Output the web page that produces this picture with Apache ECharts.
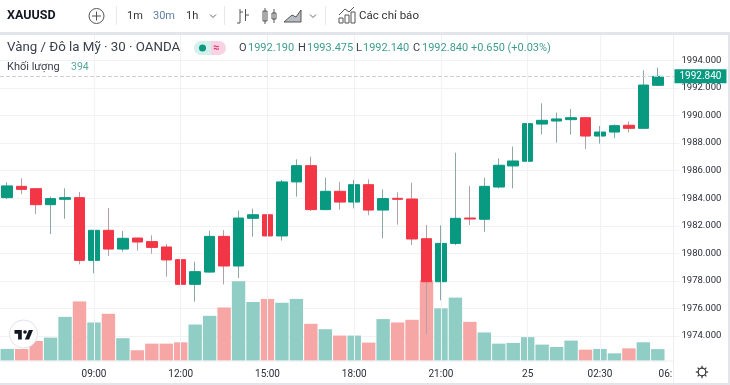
<!DOCTYPE html>
<html>
<head>
<meta charset="utf-8">
<style>
  html, body { margin: 0; padding: 0; background: #fff; }
  #chart { width: 730px; height: 385px; }
</style>
</head>
<body>
<div id="chart"></div>
<script src="https://cdn.jsdelivr.net/npm/echarts@6/dist/echarts.min.js"></script>
<script>
// XAUUSD 30m, doc tu anh
const categories = ['06:00', '06:30', '07:00', '07:30', '08:00', '08:30', '09:00', '09:30', '10:00', '10:30', '11:00', '11:30', '12:00',
  '12:30', '13:00', '13:30', '14:00', '14:30', '15:00', '15:30', '16:00', '16:30', '17:00', '17:30', '18:00',
  '18:30', '19:00', '19:30', '20:00', '20:30', '21:00', '21:30', '22:00', '22:30', '23:00', '23:30', '25',
  '00:30', '01:00', '01:30', '02:00', '02:30', '03:00', '03:30', '04:00', '04:30', '06:']
const timeLabels = ['09:00', '12:00', '15:00', '18:00', '21:00', '25', '02:30', '06:']
const priceTicks = [1974, 1976, 1978, 1980, 1982, 1984, 1986, 1988, 1990, 1992, 1994]

const opens = [1984.04, 1984.86, 1984.69, 1983.53, 1983.92, 1984.04, 1979.49, 1981.67, 1980.31, 1981.11, 1980.85, 1980.46, 1979.54,
  1977.75, 1978.64, 1981.23, 1979.08, 1982.54, 1982.80, 1981.26, 1985.18, 1986.36, 1983.17, 1984.50, 1983.72,
  1984.98, 1983.14, 1983.99, 1983.94, 1981.06, 1977.94, 1980.72, 1982.56, 1982.47, 1984.81, 1986.34, 1986.68,
  1989.38, 1989.60, 1989.70, 1989.84, 1988.51, 1988.80, 1989.29, 1989.07, 1992.19]
const closes = [1984.89, 1984.64, 1983.53, 1983.97, 1984.04, 1979.49, 1981.67, 1980.31, 1981.09, 1980.82, 1980.43, 1979.52, 1977.75,
  1978.67, 1981.23, 1979.08, 1982.56, 1982.80, 1981.26, 1985.18, 1986.36, 1983.17, 1984.50, 1983.72, 1984.98,
  1983.14, 1983.97, 1983.92, 1981.04, 1977.94, 1980.72, 1982.54, 1982.49, 1984.86, 1986.39, 1986.70, 1989.41,
  1989.65, 1989.75, 1989.84, 1988.51, 1988.80, 1989.26, 1989.07, 1992.21, 1992.84]
const lows = [1983.94, 1984.30, 1982.85, 1981.40, 1982.51, 1979.20, 1978.55, 1979.81, 1980.12, 1980.19, 1979.97, 1978.31, 1976.64,
  1976.49, 1978.60, 1977.75, 1978.21, 1981.21, 1981.06, 1980.92, 1984.11, 1983.07, 1983.15, 1983.17, 1983.26,
  1982.76, 1981.09, 1982.08, 1980.60, 1974.12, 1976.59, 1980.60, 1982.05, 1981.57, 1984.72, 1984.72, 1986.66,
  1988.63, 1988.03, 1988.61, 1987.57, 1987.96, 1988.37, 1988.76, 1989.05, 1992.14]
const highs = [1985.15, 1985.44, 1984.72, 1984.11, 1984.72, 1984.45, 1981.70, 1983.29, 1981.62, 1981.13, 1981.31, 1980.68, 1979.90,
  1979.39, 1981.64, 1981.69, 1983.10, 1983.24, 1983.24, 1985.32, 1986.82, 1987.01, 1985.49, 1985.18, 1985.32,
  1985.37, 1984.64, 1984.43, 1985.13, 1982.06, 1982.03, 1987.30, 1984.89, 1985.49, 1986.89, 1987.74, 1990.84,
  1990.88, 1990.21, 1990.47, 1989.87, 1989.24, 1989.36, 1989.58, 1993.28, 1993.475]
const volumes = [400, 400, 670, 785, 1490, 2015, 1300, 1595, 765, 355, 580, 580, 625,
  1230, 1525, 1810, 2700, 1995, 2100, 1970, 2100, 1255, 1070, 855, 855,
  615, 1415, 1300, 1390, 2735, 1780, 2145, 1320, 960, 580, 605, 800,
  547, 467, 684, 376, 400, 250, 420, 627, 394]

const UP = '#089981'
const DOWN = '#f23645'
const VOL_UP = '#8fcdc5'
const VOL_DOWN = '#f7a6a6'
const WICK_UP = '#8ba8a2'
const WICK_DOWN = '#b5a0a4'
const TEXT = '#2a2e39'
const FONT = 'Roboto, sans-serif'
const lastPrice = closes[closes.length - 1]

// nen ve 2 lop: than khong co bong, bong mau xam o duoi
const wickData = opens.map((o, i) => [o, closes[i], lows[i], highs[i]])
const bodyData = opens.map((o, i) => [o, closes[i], Math.min(o, closes[i]), Math.max(o, closes[i])])
const volumeData = volumes.map((v, i) => ({
  value: v,
  itemStyle: { color: closes[i] >= opens[i] ? VOL_UP : VOL_DOWN }
}))

function label(x, y, text, size, color, weight) {
  return {
    type: 'text', x: x, y: y, silent: true, z: 20,
    style: { text: text, fontFamily: FONT, fontSize: size, fill: color || TEXT, fontWeight: weight || 'normal', verticalAlign: 'middle' }
  }
}
function stroke(shapeType, shape, color, width) {
  return { type: shapeType, shape: shape, silent: true, z: 20, style: { fill: 'none', stroke: color || '#555', lineWidth: width || 1 } }
}
function vline(x, y1, y2, color) {
  return stroke('line', { x1: x, y1: y1, x2: x, y2: y2 }, color || '#e6e8ee')
}
function chevron(x, y) {
  return stroke('polyline', { points: [[x - 3, y - 1.5], [x, y + 1.5], [x + 3, y - 1.5]] }, '#666')
}

// thanh cong cu + legend
const chrome = [
  { type: 'rect', shape: { x: 0, y: 32, width: 730, height: 3 }, silent: true, z: 1, style: { fill: '#e3e5ea' } },
  { type: 'rect', shape: { x: 0, y: 383, width: 730, height: 2 }, silent: true, z: 1, style: { fill: '#e3e5ea' } },
  { type: 'rect', shape: { x: 728, y: 35, width: 2, height: 350 }, silent: true, z: 1, style: { fill: '#e3e5ea' } },
  vline(673.5, 35, 383, '#eceef2'),
  stroke('line', { x1: 0, y1: 361, x2: 673, y2: 361 }, '#eceef2'),
  label(7, 16, 'XAUUSD', 12.5, '#131722', 'bold'),
  stroke('circle', { cx: 96.5, cy: 16, r: 7.5 }, '#555'),
  stroke('line', { x1: 92, y1: 16, x2: 101, y2: 16 }, '#555'),
  stroke('line', { x1: 96.5, y1: 11.5, x2: 96.5, y2: 20.5 }, '#555'),
  vline(116.5, 6, 25),
  label(127, 16, '1m', 11, '#333'),
  label(153, 16, '30m', 11, '#5b7fa6'),
  label(186, 16, '1h', 11, '#333'),
  chevron(213, 16),
  vline(224.5, 6, 25),
  // nut loai nen
  stroke('polyline', { points: [[237, 23], [240, 23], [240, 9]] }, '#555'),
  stroke('line', { x1: 240, y1: 12, x2: 243, y2: 12 }, '#555'),
  stroke('line', { x1: 245.5, y1: 9, x2: 245.5, y2: 21 }, '#555'),
  stroke('line', { x1: 245, y1: 15, x2: 249, y2: 15 }, '#555'),
  stroke('rect', { x: 263, y: 11, width: 4, height: 10 }, '#555'),
  stroke('line', { x1: 265, y1: 8, x2: 265, y2: 24 }, '#555'),
  stroke('rect', { x: 272, y: 13, width: 4, height: 6 }, '#555'),
  stroke('line', { x1: 274, y1: 9, x2: 274, y2: 23 }, '#555'),
  { type: 'polygon', shape: { points: [[284, 22], [292, 15], [296, 17], [301, 10], [301, 22]] }, silent: true, z: 20, style: { fill: '#b9bcc2', stroke: '#555' } },
  chevron(313, 16),
  vline(325.5, 6, 25),
  stroke('polyline', { points: [[339, 15], [345, 9], [349, 12], [354, 7]] }, '#555'),
  stroke('rect', { x: 339, y: 18, width: 4, height: 5 }, '#555'),
  stroke('rect', { x: 345, y: 15, width: 4, height: 8 }, '#555'),
  stroke('rect', { x: 351, y: 12, width: 4, height: 11 }, '#555'),
  label(359, 16, 'Các chỉ báo', 11.5, '#333'),

  label(7, 48, 'Vàng / Đô la Mỹ · 30 · OANDA', 13.3, '#3a3e49'),
  { type: 'rect', shape: { x: 194, y: 41, width: 17, height: 14, r: [7, 0, 0, 7] }, silent: true, z: 20, style: { fill: '#d5efea' } },
  { type: 'rect', shape: { x: 211, y: 41, width: 15, height: 14, r: [0, 7, 7, 0] }, silent: true, z: 20, style: { fill: '#f9d3e2' } },
  { type: 'circle', shape: { cx: 202.5, cy: 48, r: 3.5 }, silent: true, z: 21, style: { fill: UP } },
  label(213, 48, '≈', 11, '#d6336c', 'bold'),
  label(239, 48, 'O', 11, '#3a3e49'),
  label(248, 48, '1992.190', 11, '#3f9c8c'),
  label(298, 48, 'H', 11, '#3a3e49'),
  label(307, 48, '1993.475', 11, '#3f9c8c'),
  label(356, 48, 'L', 11, '#3a3e49'),
  label(363, 48, '1992.140', 11, '#3f9c8c'),
  label(413, 48, 'C', 11, '#3a3e49'),
  label(422, 48, '1992.840', 11, '#3f9c8c'),
  label(471, 48, '+0.650 (+0.03%)', 11, '#3f9c8c'),
  label(7, 67, 'Khối lượng', 11, '#3a3e49'),
  label(71, 67, '394', 10.5, '#56a89a'),

  // logo TV
  { type: 'circle', shape: { cx: 23.5, cy: 334, r: 14 }, silent: true, z: 20, style: { fill: '#fff', stroke: '#e0e3eb' } },
  { type: 'polygon', silent: true, z: 21, shape: { points: [[21.8, 339.5], [18.1, 339.5], [18.1, 333.7], [14.5, 333.7], [14.5, 330], [21.8, 330]] }, style: { fill: '#131722' } },
  { type: 'polygon', silent: true, z: 21, shape: { points: [[29.1, 339.5], [24.9, 339.5], [28.8, 330], [33, 330]] }, style: { fill: '#131722' } },
  { type: 'circle', shape: { cx: 25, cy: 332, r: 1.8 }, silent: true, z: 22, style: { fill: '#131722' } },

  // banh rang
  stroke('circle', { cx: 702, cy: 372, r: 3.8 }, '#333', 1.2)
]
for (let a = 0; a < 8; a++) {
  const rad = a * Math.PI / 4
  chrome.push(stroke('line', {
    x1: 702 + Math.cos(rad) * 3.8, y1: 372 + Math.sin(rad) * 3.8,
    x2: 702 + Math.cos(rad) * 6.2, y2: 372 + Math.sin(rad) * 6.2
  }, '#333', 1.2))
}

const myChart = echarts.init(document.getElementById('chart'), null, { renderer: 'canvas' })
myChart.setOption({
  animation: false,
  backgroundColor: '#fff',
  grid: { left: -0.5, width: 680, top: 35, bottom: 24.3, containLabel: false },
  xAxis: {
    type: 'category',
    // nhan cuoi bi cat, can phai cho sat mep
    data: categories.map(c => (c === '06:' ? { value: c, textStyle: { align: 'right' } } : c)),
    boundaryGap: true,
    axisLine: { show: false },
    axisTick: { show: false },
    splitLine: { show: false },
    axisLabel: {
      interval: 0,
      margin: 9,
      fontFamily: FONT,
      fontSize: 10,
      color: TEXT,
      hideOverlap: false,
      formatter: function (value) {
        return timeLabels.indexOf(value) >= 0 ? value : ''
      }
    }
  },
  yAxis: [
    {
      type: 'value',
      position: 'right',
      min: 1972.21,
      max: 1995.84,
      scale: true,
      axisLine: { show: false },
      axisTick: { show: false, customValues: priceTicks },
      splitLine: { show: true, lineStyle: { color: '#f1f2f5' } },
      axisLabel: {
        customValues: priceTicks,
        margin: 2,
        fontFamily: FONT,
        fontSize: 9.5,
        color: TEXT,
        formatter: function (value) { return value.toFixed(3) }
      }
    },
    { type: 'value', show: false, min: 0, max: 11074, splitLine: { show: false } }
  ],
  series: [
    {
      // chi de ve duong doc theo moc gio
      type: 'line',
      data: [],
      z: 0,
      silent: true,
      markLine: {
        silent: true,
        symbol: 'none',
        label: { show: false },
        lineStyle: { color: '#f1f2f5', type: 'solid', width: 1 },
        data: timeLabels.slice(0, -1).map(t => ({ xAxis: t }))
      }
    },
    {
      name: 'Khối lượng',
      type: 'bar',
      yAxisIndex: 1,
      z: 1,
      barWidth: 13.4,
      data: volumeData
    },
    {
      name: 'Bóng nến',
      type: 'candlestick',
      yAxisIndex: 0,
      z: 2,
      barWidth: 1,
      data: wickData,
      itemStyle: { color: WICK_UP, color0: WICK_DOWN, borderColor: WICK_UP, borderColor0: WICK_DOWN, borderWidth: 1 }
    },
    {
      name: 'XAUUSD',
      type: 'candlestick',
      yAxisIndex: 0,
      z: 3,
      barWidth: 11,
      data: bodyData,
      itemStyle: { color: UP, color0: DOWN, borderColor: UP, borderColor0: DOWN, borderWidth: 1 },
      markLine: {
        silent: true,
        symbol: 'none',
        lineStyle: { color: '#cdd0d7', type: 'dashed', width: 1 },
        label: {
          position: 'end',
          distance: -5,
          backgroundColor: UP,
          color: '#fff',
          fontFamily: FONT,
          fontSize: 10,
          padding: [2, 5, 2, 5],
          formatter: function () { return lastPrice.toFixed(3) }
        },
        data: [{ yAxis: lastPrice }]
      }
    }
  ],
  graphic: chrome
})
window.addEventListener('resize', () => myChart.resize())
</script>
</body>
</html>
